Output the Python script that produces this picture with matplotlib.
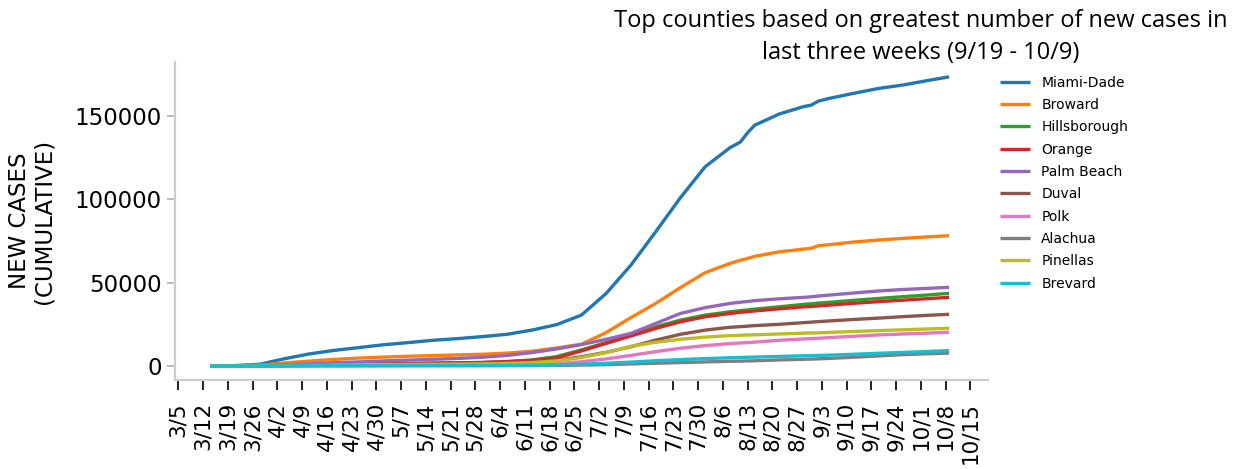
import matplotlib
matplotlib.use("Agg")
import matplotlib.pyplot as plt
import matplotlib.dates as mdates
import pandas as pd

dates = ["3/14", "3/21", "3/28", "4/4", "4/11", "4/18", "4/25", "5/2", "5/9", "5/16",
         "5/23", "5/30", "6/6", "6/13", "6/20", "6/27", "7/4", "7/11", "7/18", "7/25",
         "8/1", "8/8", "8/11", "8/13", "8/15", "8/22", "8/29", "8/31", "9/2", "9/5",
         "9/12", "9/19", "9/26", "10/3", "10/9"]

miami_dade = [0, 200, 1000, 4300, 7200, 9300, 11000, 12700, 14000, 15400,
              16400, 17600, 19000, 21500, 24800, 30500, 43500, 60500, 80500, 101000,
              119600, 131000, 134500, 140000, 144500, 151300, 155800, 156600, 159000, 160600,
              163700, 166600, 168700, 171400, 173600]
broward = [0, 100, 500, 1800, 2900, 3900, 4700, 5300, 5800, 6200,
           6600, 7000, 7700, 8800, 10800, 13000, 20000, 29000, 37500, 47000,
           56000, 61500, 63500, 64500, 65800, 68500, 70200, 70600, 72200, 72800,
           74400, 75600, 76600, 77500, 78200]
hillsborough = [0, 20, 100, 300, 600, 800, 1000, 1200, 1400, 1600,
                1800, 2000, 2600, 3600, 5600, 9600, 14000, 18800, 23500, 27500,
                30500, 32500, 33200, 33600, 34100, 35500, 37000, 37300, 37700, 38200,
                39400, 40500, 41600, 42600, 43600]
orange = [0, 20, 100, 400, 700, 900, 1100, 1300, 1500, 1700,
          1900, 2100, 2600, 3300, 4800, 9000, 13500, 18000, 22500, 26500,
          29500, 31500, 32200, 32600, 33000, 34300, 35500, 35700, 36000, 36500,
          37600, 38600, 39500, 40400, 41200]
palm_beach = [0, 50, 200, 700, 1300, 1900, 2400, 3000, 3500, 4000,
              4500, 5200, 6300, 8000, 10200, 12800, 16000, 19500, 25500, 31500,
              35000, 37500, 38300, 38700, 39200, 40300, 41200, 41500, 42000, 42500,
              43800, 45000, 45900, 46600, 47200]
duval = [0, 10, 50, 150, 300, 450, 600, 750, 900, 1000,
         1100, 1300, 1600, 2200, 3400, 5500, 8200, 11500, 15500, 19000,
         21500, 23200, 23600, 23900, 24200, 25000, 26000, 26300, 26600, 27000,
         27900, 28700, 29600, 30400, 31000]
polk = [0, 5, 30, 80, 150, 200, 250, 300, 350, 400,
        450, 500, 600, 800, 1300, 2500, 4200, 6300, 8600, 10600,
        12200, 13400, 13800, 14000, 14300, 15400, 16200, 16400, 16600, 17000,
        17800, 18600, 19200, 19700, 20200]
alachua = [0, 5, 20, 50, 70, 80, 90, 100, 110, 120,
           130, 140, 160, 200, 300, 500, 800, 1200, 1600, 2000,
           2400, 2800, 2900, 3000, 3100, 3600, 4000, 4100, 4250, 4500,
           5200, 6000, 6800, 7300, 7700]
pinellas = [0, 20, 100, 250, 400, 550, 700, 800, 900, 1000,
            1100, 1250, 1500, 2000, 3000, 5000, 8000, 11800, 14200, 16000,
            17300, 18200, 18400, 18600, 18700, 19200, 19700, 19800, 19900, 20100,
            20700, 21200, 21700, 22200, 22600]
brevard = [0, 10, 50, 100, 150, 180, 200, 220, 240, 260,
           280, 300, 330, 400, 600, 1000, 1600, 2300, 3100, 3800,
           4400, 4900, 5100, 5200, 5300, 5700, 6100, 6200, 6300, 6500,
           7000, 7600, 8100, 8700, 9200]

counties = ["Miami-Dade", "Broward", "Hillsborough", "Orange", "Palm Beach",
            "Duval", "Polk", "Alachua", "Pinellas", "Brevard"]
series = [miami_dade, broward, hillsborough, orange, palm_beach,
          duval, polk, alachua, pinellas, brevard]

tick_labels = ["3/5", "3/12", "3/19", "3/26", "4/2", "4/9", "4/16", "4/23", "4/30",
               "5/7", "5/14", "5/21", "5/28", "6/4", "6/11", "6/18", "6/25", "7/2",
               "7/9", "7/16", "7/23", "7/30", "8/6", "8/13", "8/20", "8/27", "9/3",
               "9/10", "9/17", "9/24", "10/1", "10/8", "10/15"]

title = "Top counties based on greatest number of new cases in\nlast three weeks (9/19 - 10/9)"


def to_date(s):
    return pd.Timestamp("2020/" + s)


x = [to_date(d) for d in dates]
ticks = [to_date(t) for t in tick_labels]

W, H = 1238, 469
fig = plt.figure(figsize=(W / 100, H / 100), dpi=100)
ax = fig.add_axes([175 / W, 1 - 380 / H, (988 - 175) / W, (380 - 62) / H])

colors = plt.rcParams["axes.prop_cycle"].by_key()["color"]
for name, vals, c in zip(counties, series, colors):
    ax.plot(x, vals, color=c, lw=2.4, label=name, solid_capstyle="butt")

x0 = mdates.date2num(to_date("3/5"))
ax.set_xlim(x0 - 0.93, x0 + 229)
ax.set_ylim(-8450, 182500)
ax.set_yticks([0, 50000, 100000, 150000])
ax.set_xticks(ticks)
ax.set_xticklabels(tick_labels, rotation=90, fontsize=15.5)
ax.tick_params(axis="y", labelsize=16.5, colors="#b0b0b0", labelcolor="black", length=6, width=1.2)
ax.tick_params(axis="x", colors="black", length=7, width=1.2, pad=9)

for s in ["top", "right"]:
    ax.spines[s].set_visible(False)
for s in ["left", "bottom"]:
    ax.spines[s].set_color("#cccccc")
    ax.spines[s].set_linewidth(1.6)

ax.set_ylabel("NEW CASES\n(CUMULATIVE)", fontsize=16.5, labelpad=14, linespacing=1.05)

ax.legend(loc="upper left", bbox_to_anchor=(987 / W, 1 - 63 / H),
          bbox_transform=fig.transFigure, frameon=False, fontsize=10,
          handlelength=2.2, labelspacing=0.6)

fig.text(921 / W, 1 - 9 / H, title, ha="center", va="top", fontsize=17,
         family="Open Sans", linespacing=1.45)

fig.savefig("out.png", dpi=100)
